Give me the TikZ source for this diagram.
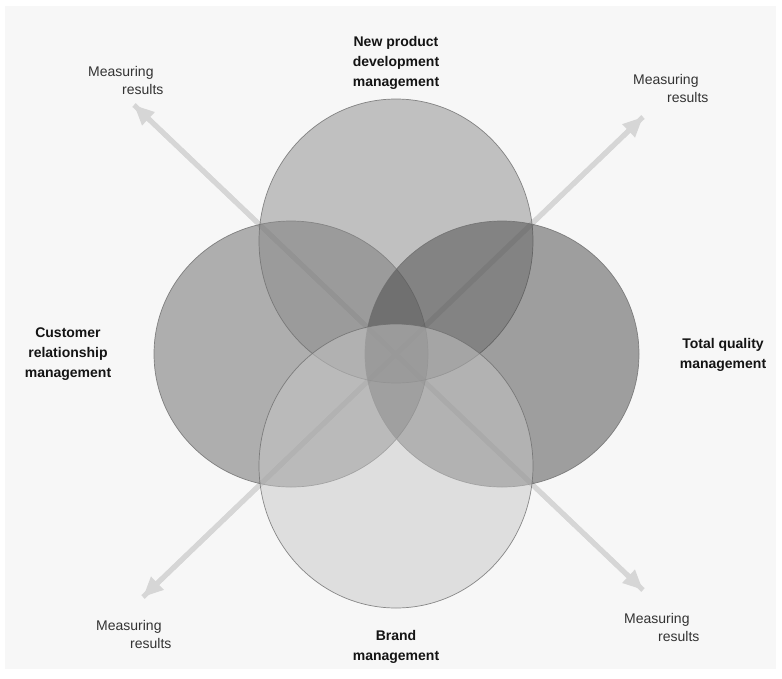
\documentclass[tikz,border=0pt]{standalone}
\usepackage{fontspec}
\setmainfont{Liberation Sans}
\usetikzlibrary{shapes.geometric,arrows.meta}
\definecolor{bgc}{HTML}{F7F7F7}
\definecolor{arrc}{HTML}{D6D6D6}
\definecolor{edgec}{HTML}{6E6E6E}
\begin{document}
\begin{tikzpicture}[x=1pt,y=-1pt,
  venn/.style={ellipse,draw=edgec,line width=0.7pt,inner sep=0pt,
    minimum width=274pt,minimum height=284pt,fill opacity=0.5,draw opacity=0.8},
  sidevenn/.style={venn,minimum height=266pt},
  measlbl/.style={anchor=north west,inner sep=0pt,align=left,text=black!80,
    font=\fontsize{14}{18}\selectfont},
  arealbl/.style={inner sep=0pt,align=center,text=black!92,
    font=\fontsize{14}{20}\selectfont\bfseries},
  measarrow/.style={draw=arrc,line width=5pt,
    -{Triangle[length=20pt,width=17pt]}}]
\useasboundingbox (0,0) rectangle (782,678);
\fill[white] (0,0) rectangle (782,678);
\fill[bgc] (5,6) rectangle (776,669);
% arrow end points
\coordinate (tl) at (134,105);
\coordinate (br) at (643,590);
\coordinate (tr) at (643,117);
\coordinate (bl) at (143,597);
\draw[measarrow] (br) -- (tl);
\draw[measarrow] (tl) -- (br);
\draw[measarrow] (bl) -- (tr);
\draw[measarrow] (tr) -- (bl);
% ellipses
\node[sidevenn,fill=black!60] (crm) at (291,354) {};
\node[venn,fill=black!46] (npd) at (396,241) {};
\node[sidevenn,fill=black!72] (tqm) at (502,354) {};
\node[venn,fill=black!22] (bm) at (396,466) {};
% labels
\node[arealbl] (lnpd) at (396,63) {New product\\development\\management};
\node[arealbl] (lcrm) at (68,354) {Customer\\relationship\\management};
\node[arealbl] (ltqm) at (723,355) {Total quality\\management};
\node[arealbl] (lbm) at (396,647) {Brand\\management};
\node[measlbl] (mtl) at (88,66) {Measuring\\\hspace*{34pt}results};
\node[measlbl] (mtr) at (633,74) {Measuring\\\hspace*{34pt}results};
\node[measlbl] (mbl) at (96,620) {Measuring\\\hspace*{34pt}results};
\node[measlbl] (mbr) at (624,613) {Measuring\\\hspace*{34pt}results};
\end{tikzpicture}
\end{document}
